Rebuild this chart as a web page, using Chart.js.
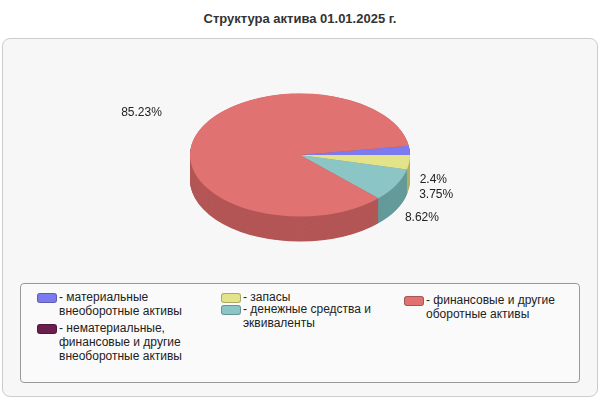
<!DOCTYPE html>
<html><head><meta charset="utf-8">
<script src="https://cdn.jsdelivr.net/npm/chart.js@4/dist/chart.umd.min.js"></script>
<style>
  body { margin:0; width:600px; height:400px; position:relative; background:#fff;
         font-family:"Liberation Sans", Arial, sans-serif; overflow:hidden; }
  #title { position:absolute; top:11px; left:0; width:600px; text-align:center;
           font-weight:bold; font-size:13px; color:#333; }
  #panel { position:absolute; left:2px; top:38px; width:594px; height:357px;
           background:#f7f7f7; border:1px solid #ccc; border-radius:8px; }
  #legend { position:absolute; left:20px; top:283px; width:558px; height:98px;
            background:#fafafa; border:1px solid #999; border-radius:4px; }
  .item { position:absolute; font-size:12px; line-height:14px; color:#222; }
  .sw { position:absolute; left:-22px; top:3px; width:18px; height:8px; border-radius:3px; border:1px solid rgba(0,0,0,.25); }
  canvas { position:absolute; left:0; top:0; }
</style></head>
<body>
<div id="title">Структура актива 01.01.2025 г.</div>
<div id="panel"></div>
<canvas id="pie" width="600" height="400"></canvas>
<div id="legend"></div>
<script>
// ── data ──
const labels = [
  'материальные внеоборотные активы',
  'нематериальные, финансовые и другие внеоборотные активы',
  'запасы',
  'денежные средства и эквиваленты',
  'финансовые и другие оборотные активы',
];
const values = [2.4, 0, 3.75, 8.62, 85.23];
const colors = ['#7b7bef', '#6b1f4f', '#e3e38a', '#8cc5c5', '#e07272'];
const sides  = ['#5a5ab8', '#4a1236', '#b0b060', '#649a9a', '#b45656'];

// legend (html)
const legendPos = [
  { l: 38,  t: 6,  w: 150 },
  { l: 38,  t: 37, w: 160 },
  { l: 222, t: 6,  w: 160 },
  { l: 222, t: 18, w: 160 },
  { l: 405, t: 9,  w: 145 },
];
const legendEl = document.getElementById('legend');
labels.forEach((lab, i) => {
  const p = legendPos[i];
  const d = document.createElement('div');
  d.className = 'item';
  d.style.left = p.l + 'px'; d.style.top = p.t + 'px'; d.style.width = p.w + 'px';
  d.innerHTML = '<span class="sw" style="background:' + colors[i] + '"></span>- ' + lab;
  legendEl.appendChild(d);
});

const SY = 0.56, DEPTH = 25;

const pie3d = {
  id: 'pie3d',
  beforeDatasetsDraw(chart) {
    const ctx = chart.ctx;
    const arcs = chart.getDatasetMeta(0).data;
    const { x: cx, y: cy } = arcs[0];
    ctx.save();
    ctx.translate(cx, cy); ctx.scale(1, SY); ctx.translate(-cx, -cy);
    // side walls
    for (let d = DEPTH / SY; d > 0; d -= 1) {
      arcs.forEach((a, i) => {
        if (!values[i]) return;
        ctx.beginPath();
        ctx.moveTo(cx, cy + d);
        ctx.arc(cx, cy + d, a.outerRadius, a.startAngle, a.endAngle);
        ctx.closePath();
        ctx.fillStyle = sides[i];
        ctx.fill();
      });
    }
  },
  afterDatasetsDraw(chart) {
    const ctx = chart.ctx;
    ctx.restore();
    // percentage labels
    const arcs = chart.getDatasetMeta(0).data;
    ctx.font = '12px "Liberation Sans", Arial, sans-serif';
    ctx.fillStyle = '#222';
    ctx.textBaseline = 'middle';
    let lastY = -Infinity;
    arcs.forEach((a, i) => {
      if (!values[i]) return;
      const mid = (a.startAngle + a.endAngle) / 2;
      const r = a.outerRadius + 10;
      let x = a.x + r * Math.cos(mid);
      let y = a.y + r * SY * Math.sin(mid);
      if (Math.cos(mid) > 0) {
        y += DEPTH * 1.2;
        if (y < lastY + 15) y = lastY + 15;
        lastY = y;
        ctx.textAlign = 'left';
      } else {
        x -= 24;
        y -= 22;
        ctx.textAlign = 'right';
      }
      ctx.fillText(values[i] + '%', x, y);
    });
  },
};

new Chart(document.getElementById('pie'), {
  type: 'pie',
  data: {
    labels,
    datasets: [{
      data:            values,
      backgroundColor: colors,
      borderWidth:     0,
      clip:            false,
    }],
  },
  options: {
    responsive: false,
    animation:  false,
    events:     [],
    rotation:   90 - values[0] * 3.6,
    layout:     { padding: { left: 190, right: 190, top: 45, bottom: 135 } },
    plugins: {
      legend:  { display: false },
      tooltip: { enabled: false },
    },
  },
  plugins: [pie3d],
});
</script>
</body></html>
